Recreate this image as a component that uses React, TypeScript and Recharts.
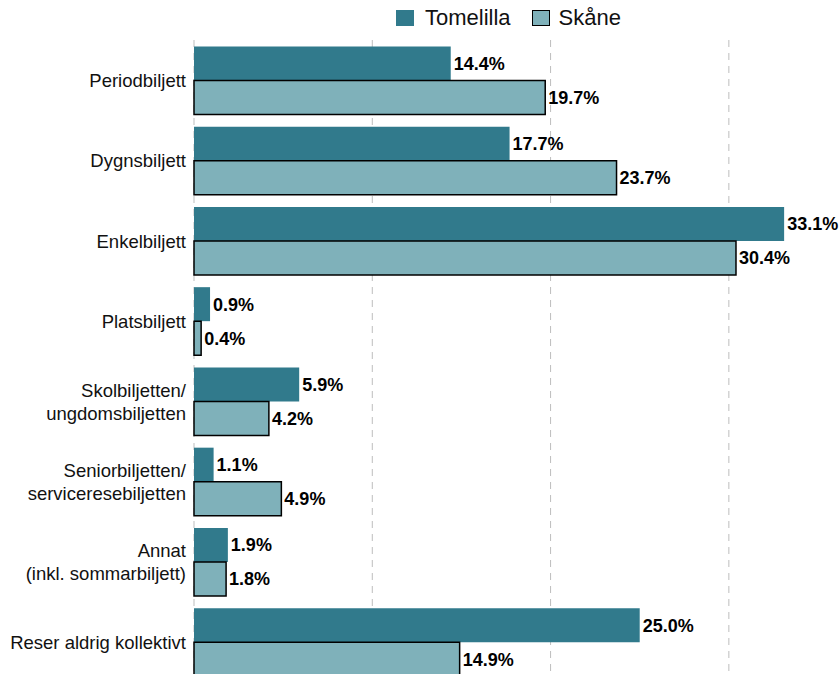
import { BarChart, Bar, XAxis, YAxis, CartesianGrid, LabelList } from "recharts";

const categories = [
  "Periodbiljett",
  "Dygnsbiljett",
  "Enkelbiljett",
  "Platsbiljett",
  "Skolbiljetten/\nungdomsbiljetten",
  "Seniorbiljetten/\nserviceresebiljetten",
  "Annat\n(inkl. sommarbiljett)",
  "Reser aldrig kollektivt",
];
const tomelilla = [14.4, 17.7, 33.1, 0.9, 5.9, 1.1, 1.9, 25.0];
const skane = [19.7, 23.7, 30.4, 0.4, 4.2, 4.9, 1.8, 14.9];
const xTicks = [0, 10, 20, 30];

const data = categories.map((name, i) => ({ name, tomelilla: tomelilla[i], skane: skane[i] }));

const DARK = "#317a8c";
const LIGHT = "#7fb1ba";
const font = "'Liberation Sans', Arial, sans-serif";

function CategoryTick({ x, y, payload }: any) {
  const lines = String(payload.value).split("\n");
  const lh = 23;
  const start = -((lines.length - 1) * lh) / 2;
  return (
    <text x={x} y={y} textAnchor="end" fontSize={18.5} fill="#111" fontFamily={font}>
      {lines.map((l, i) => (
        <tspan key={i} x={x} dy={i === 0 ? start + 7 : lh}>
          {l}
        </tspan>
      ))}
    </text>
  );
}

const fmt = (v: any) => `${Number(v).toFixed(1)}%`;
const labelStyle = { fontSize: 18, fontWeight: 700, fill: "#000", fontFamily: font };

export default function App() {
  return (
    <div
      style={{
        position: "absolute",
        top: 0,
        left: 0,
        width: 840,
        height: 674,
        overflow: "hidden",
        background: "#fff",
      }}
    >
      <div
        style={{
          position: "absolute",
          top: 5,
          left: 396,
          display: "flex",
          alignItems: "center",
          fontFamily: font,
          fontSize: 22,
          color: "#111",
        }}
      >
        <span style={{ width: 18, height: 16, background: DARK, display: "inline-block", marginRight: 11 }} />
        <span style={{ marginRight: 21 }}>Tomelilla</span>
        <span
          style={{
            width: 16,
            height: 14,
            background: LIGHT,
            border: "1.5px solid #000",
            display: "inline-block",
            marginRight: 9,
          }}
        />
        <span>Skåne</span>
      </div>
      <BarChart
        width={840}
        height={682}
        data={data}
        layout="vertical"
        margin={{ top: 40, right: 22, bottom: 0, left: 0 }}
        barCategoryGap="8%"
        barGap={0}
        style={{ overflow: "visible" }}
      >
        <CartesianGrid
          horizontal={false}
          stroke="#bdbdbd"
          strokeDasharray="7 6"
          verticalValues={xTicks}
        />
        <XAxis type="number" domain={[0, 35]} ticks={xTicks} hide />
        <YAxis
          type="category"
          dataKey="name"
          width={194}
          axisLine={false}
          tickLine={false}
          tickSize={6}
          tickMargin={2}
          interval={0}
          tick={<CategoryTick />}
        />
        <Bar dataKey="tomelilla" fill={DARK} isAnimationActive={false}>
          <LabelList dataKey="tomelilla" position="right" offset={3} formatter={fmt} style={labelStyle} />
        </Bar>
        <Bar dataKey="skane" fill={LIGHT} stroke="#000" strokeWidth={1.5} isAnimationActive={false}>
          <LabelList dataKey="skane" position="right" offset={3} formatter={fmt} style={labelStyle} />
        </Bar>
      </BarChart>
    </div>
  );
}
